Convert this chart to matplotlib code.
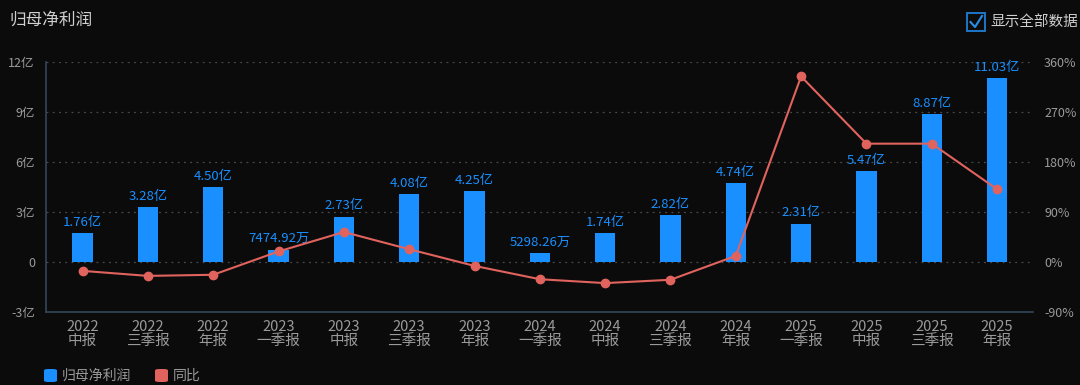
import matplotlib
matplotlib.use("Agg")
import matplotlib.pyplot as plt
from matplotlib.patches import FancyBboxPatch, Rectangle
from matplotlib.lines import Line2D

plt.rcParams['font.family'] = ['Noto Sans CJK SC', 'DejaVu Sans']

# ---- data ----
years = ["2022", "2022", "2022", "2023", "2023", "2023", "2023", "2024", "2024",
         "2024", "2024", "2025", "2025", "2025", "2025"]
periods = ["中报", "三季报", "年报", "一季报", "中报", "三季报", "年报", "一季报", "中报",
           "三季报", "年报", "一季报", "中报", "三季报", "年报"]
profit_yi = [1.76, 3.28, 4.50, 0.747492, 2.73, 4.08, 4.25, 0.529826, 1.74,
             2.82, 4.74, 2.31, 5.47, 8.87, 11.03]
bar_labels = ["1.76亿", "3.28亿", "4.50亿", "7474.92万", "2.73亿", "4.08亿", "4.25亿",
              "5298.26万", "1.74亿", "2.82亿", "4.74亿", "2.31亿", "5.47亿", "8.87亿", "11.03亿"]
yoy_pct = [-16, -25, -23, 19, 54, 23, -7, -31, -38, -32, 11, 334, 213, 213, 131]
left_ticks = [-3, 0, 3, 6, 9, 12]
left_ticklabels = ["-3亿", "0", "3亿", "6亿", "9亿", "12亿"]
right_ticks = [-90, 0, 90, 180, 270, 360]
right_ticklabels = ["-90%", "0%", "90%", "180%", "270%", "360%"]

# ---- style ----
BG = "#0b0b0b"
BLUE = "#1a8fff"
RED = "#e0635d"
TICK = "#9a9a9a"
GRID = "#4a4a4a"
AXIS = "#34465a"

W, H = 1080, 385
fig = plt.figure(figsize=(W / 100, H / 100), dpi=100, facecolor=BG)
ax = fig.add_axes([46 / W, 1 - 312 / H, (1033 - 46) / W, 250 / H])
ax.set_facecolor(BG)

x = list(range(len(profit_yi)))
ax.bar(x, profit_yi, width=0.31, color=BLUE, zorder=2)
for xi, v, lab in zip(x, profit_yi, bar_labels):
    ax.annotate(lab, (xi, v), xytext=(0, 3), textcoords="offset points",
                ha="center", va="bottom", color=BLUE, fontsize=9.5, zorder=5)

ax.set_xlim(-0.56, 14.55)
ax.set_ylim(-3, 12)
ax.set_yticks(left_ticks)
ax.set_yticklabels(left_ticklabels)
ax.set_xticks(x)
ax.set_xticklabels([f"{y}\n{p}" for y, p in zip(years, periods)], linespacing=0.95)
ax.tick_params(axis="both", length=0, colors=TICK, labelsize=9)
ax.tick_params(axis="x", labelsize=10.5, pad=6)
ax.tick_params(axis="y", pad=8)
for t in ax.get_xticklabels():
    t.set_color(TICK)

for s in ["top", "right"]:
    ax.spines[s].set_visible(False)
ax.spines["left"].set_color(AXIS)
ax.spines["bottom"].set_color(AXIS)
ax.spines["left"].set_linewidth(1.2)
ax.spines["bottom"].set_linewidth(1.2)

for yv in left_ticks[1:]:
    ax.axhline(yv, color=GRID, lw=0.9, dashes=(1.5, 3.5), zorder=1)

ax2 = ax.twinx()
ax2.set_ylim(-90, 360)
ax2.set_yticks(right_ticks)
ax2.set_yticklabels(right_ticklabels)
ax2.tick_params(axis="y", length=0, colors=TICK, labelsize=9, pad=8)
for s in ["top", "right", "left", "bottom"]:
    ax2.spines[s].set_visible(False)
ax2.plot(x, yoy_pct, color=RED, lw=1.5, marker="o", markersize=6, zorder=3)

# title
fig.text(9 / W, 1 - 20 / H, "归母净利润", color="#d0d0d0", fontsize=12, va="center", ha="left")

# checkbox
fig.patches.append(Rectangle((967 / W, 1 - 31 / H), 18 / W, 18 / H, transform=fig.transFigure,
                             fill=False, edgecolor="#1f7fd6", lw=1.3))
fig.lines.append(Line2D([970.5 / W, 975 / W, 982 / W], [1 - 22 / H, 1 - 27 / H, 1 - 16 / H],
                        transform=fig.transFigure, color="#2a8ee8", lw=1.5))
fig.text(990 / W, 1 - 22 / H, "显示全部数据", color="#d0d0d0", fontsize=10.5, va="center", ha="left")

# legend
for x0, col, lab in [(44, BLUE, "归母净利润"), (155, RED, "同比")]:
    fig.patches.append(FancyBboxPatch((x0 / W, 1 - 382 / H), 13 / W, 13 / H,
                                      boxstyle="round,pad=0,rounding_size=0.004",
                                      transform=fig.transFigure, facecolor=col, edgecolor="none"))
    fig.text((x0 + 18) / W, 1 - 375.5 / H, lab, color=TICK, fontsize=10, va="center", ha="left")

fig.savefig("out.png", dpi=100, facecolor=BG)
